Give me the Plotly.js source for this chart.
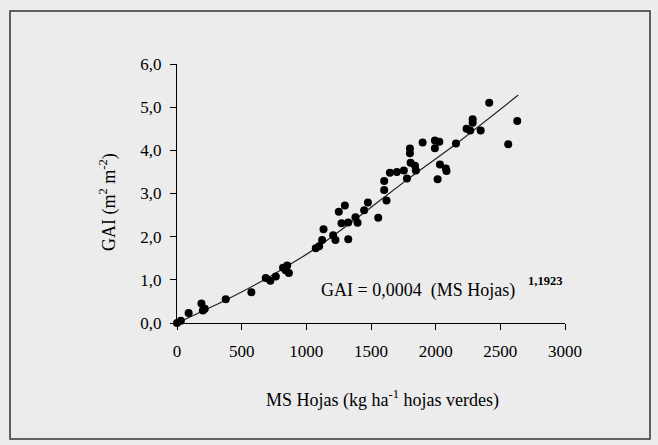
<!DOCTYPE html>
<html>
<head>
<meta charset="utf-8">
<script src="https://cdn.plot.ly/plotly-3.0.1.min.js"></script>
<style>
html,body{margin:0;padding:0;background:#ececec;}
#chart{width:658px;height:445px;}
</style>
</head>
<body>
<div id="chart"></div>
<script>
// Observed points: MS Hojas (kg/ha) vs GAI
const msHojas = [0, 30, 90, 189, 200, 215, 377, 575, 686, 722, 764, 820, 840, 852, 865,
  1073, 1099, 1122, 1133, 1207, 1225, 1251, 1272, 1298, 1324, 1324, 1380, 1396, 1447, 1476,
  1556, 1602, 1602, 1620, 1646, 1700, 1754, 1778, 1801, 1801, 1806, 1840, 1847, 1899,
  1994, 1994, 2015, 2028, 2033, 2079, 2084, 2157, 2239, 2267, 2286, 2286, 2348, 2414, 2561, 2631];
const gai = [0.00, 0.05, 0.23, 0.45, 0.29, 0.33, 0.55, 0.71, 1.04, 0.98, 1.08, 1.28, 1.22, 1.33, 1.16,
  1.73, 1.78, 1.92, 2.17, 2.03, 1.92, 2.58, 2.31, 2.72, 2.33, 1.94, 2.45, 2.32, 2.61, 2.79,
  2.44, 3.08, 3.29, 2.84, 3.48, 3.50, 3.53, 3.35, 4.04, 3.93, 3.71, 3.64, 3.53, 4.18,
  4.23, 4.05, 3.33, 4.20, 3.67, 3.58, 3.52, 4.16, 4.50, 4.46, 4.72, 4.64, 4.46, 5.10, 4.14, 4.68];

// Fitted curve as drawn
const fitX = [0, 382, 692, 898, 1073, 1400, 1775, 2162, 2639];
const fitY = [0, 0.54, 1.03, 1.40, 1.73, 2.45, 3.31, 4.16, 5.28];

// Axis ticks
const xTickVals = [0, 500, 1000, 1500, 2000, 2500, 3000];
const xTickText = ['0', '500', '1000', '1500', '2000', '2500', '3000'];
const yTickVals = [0, 1, 2, 3, 4, 5, 6];
const yTickText = ['0,0', '1,0', '2,0', '3,0', '4,0', '5,0', '6,0'];

const fam = '"Liberation Serif", "Times New Roman", serif';
const tickFont = {family: fam, size: 17, color: '#000'};
const titleFont = {family: fam, size: 18, color: '#000'};
const expFont = {family: fam, size: 12.5, color: '#000', weight: 'bold'};

const traces = [
  {x: fitX, y: fitY, type: 'scatter', mode: 'lines',
   line: {color: '#222', width: 1.2, shape: 'spline', smoothing: 0.6},
   hoverinfo: 'skip', cliponaxis: false},
  {x: msHojas, y: gai, type: 'scatter', mode: 'markers',
   marker: {color: '#000', size: 8}, cliponaxis: false}
];

const L = 177, R = 565, T = 64, B = 323;
const pw = R - L, ph = B - T;
const px = v => (v - L) / pw;
const py = v => (B - v) / ph;

const layout = {
  width: 658, height: 445,
  margin: {l: L, r: 658 - R, t: T, b: 445 - B, pad: 0},
  paper_bgcolor: '#ececec', plot_bgcolor: '#ececec',
  showlegend: false,
  font: titleFont,
  xaxis: {range: [0, 3000], tickvals: xTickVals, ticktext: xTickText,
    showgrid: false, zeroline: false, showline: true, linecolor: '#000', linewidth: 1,
    ticks: 'outside', ticklen: 6, tickcolor: '#000', tickwidth: 1,
    tickfont: tickFont, ticklabelstandoff: 7, fixedrange: true},
  yaxis: {range: [0, 6], tickvals: yTickVals, ticktext: yTickText,
    showgrid: false, zeroline: false, showline: true, linecolor: '#000', linewidth: 1,
    ticks: 'outside', ticklen: 6, tickcolor: '#000', tickwidth: 1,
    tickfont: tickFont, ticklabelstandoff: 5, fixedrange: true},
  shapes: [
    {type: 'rect', xref: 'paper', yref: 'paper',
     x0: px(10), x1: px(650), y0: py(439), y1: py(11),
     line: {color: '#333', width: 1.5}, fillcolor: 'rgba(0,0,0,0)'}
  ],
  annotations: [
    {xref: 'paper', yref: 'paper', x: px(382), y: py(399), xanchor: 'center', yanchor: 'middle',
     text: 'MS Hojas (kg\u00A0ha<sup>-1</sup> hojas verdes)', showarrow: false, font: titleFont},
    {xref: 'paper', yref: 'paper', x: px(108), y: py(202), xanchor: 'center', yanchor: 'middle',
     textangle: -90, text: 'GAI (m<sup>2</sup> m<sup>-2</sup>)', showarrow: false, font: titleFont},
    {xref: 'paper', yref: 'paper', x: px(319), y: py(290), xanchor: 'left', yanchor: 'middle',
     text: 'GAI = 0,0004 \u00A0(MS Hojas)', showarrow: false, font: titleFont},
    {xref: 'paper', yref: 'paper', x: px(526), y: py(281), xanchor: 'left', yanchor: 'middle',
     text: '1,1923', showarrow: false, font: expFont}
  ]
};

Plotly.newPlot('chart', traces, layout, {displayModeBar: false, staticPlot: true});
</script>
</body>
</html>
